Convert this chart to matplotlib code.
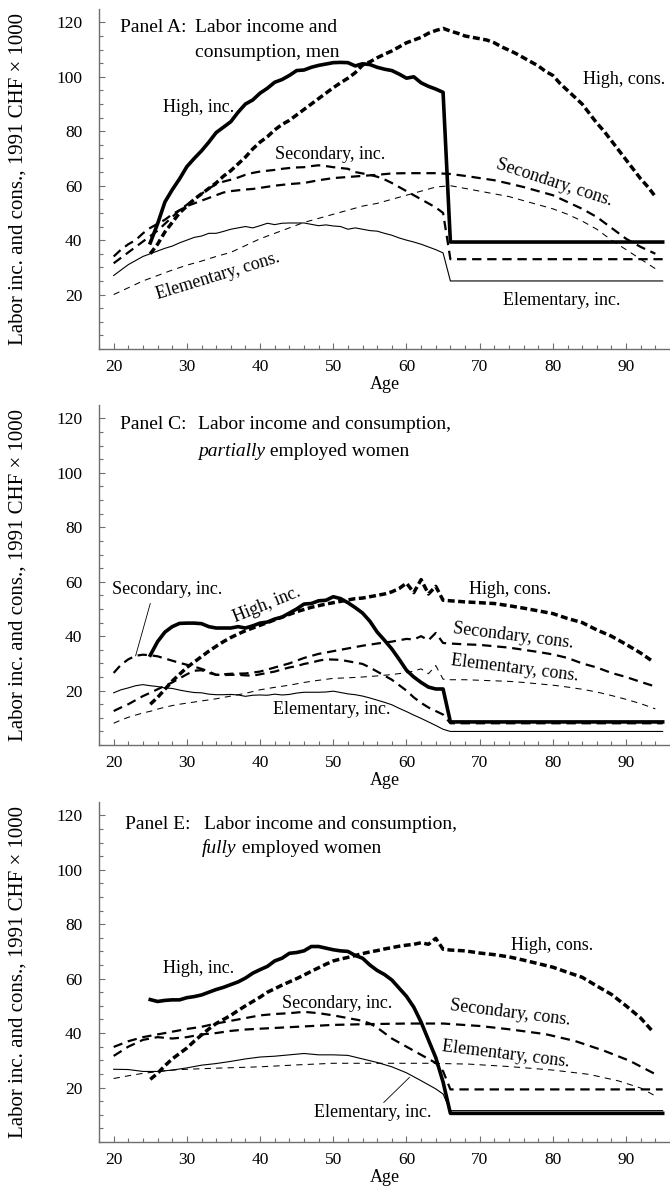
import matplotlib
matplotlib.use('Agg')
import matplotlib.pyplot as plt
from matplotlib.ticker import MultipleLocator

plt.rcParams['font.family'] = ['Liberation Serif', 'DejaVu Serif']

# ---------------- Panel A: men ----------------
a_high_inc_age = [25, 26, 27, 28, 29, 30, 31, 32, 33, 34, 35, 36, 37, 38, 39, 40, 41, 42, 43, 44, 45, 46,
                  47, 48, 49, 50, 51, 52, 53, 54, 55, 56, 57, 58, 59, 60, 61, 62, 63, 64, 65, 66, 95]
a_high_inc = [39, 46, 54, 58.5, 62.5, 67, 70, 72.8, 76, 79.5, 81.5, 83.5, 87, 90, 91.5, 94, 95.8, 98, 99,
              100.5, 102.3, 102.5, 103.5, 104.2, 104.7, 105.2, 105.3, 105.2, 104, 104.8, 104.5, 103.5, 102.8,
              102.3, 101, 99.5, 100, 97.8, 96.5, 95.5, 94.3, 39.3, 39.3]

a_high_cons_age = [25, 26, 27, 28, 29, 30, 31, 32, 33, 34, 35, 36, 37, 38, 39, 40, 41, 42, 43, 44, 45, 46, 47,
                   48, 49, 50, 51, 52, 53, 54, 55, 56, 57, 58, 59, 60, 61, 62, 63, 64, 65, 66, 67, 68, 69, 70,
                   71, 72, 73, 74, 75, 76, 77, 78, 79, 80, 81, 82, 83, 84, 85, 86, 87, 88, 89, 90, 91, 92, 93, 94]
a_high_cons = [35, 38.5, 43, 46.5, 50, 52.5, 55, 57, 59, 61, 63.5, 65.5, 68, 70.5, 73.5, 76, 78, 80.5, 82.5, 84,
               86, 88, 90, 92, 94, 96, 97.8, 99.5, 101.5, 104.3, 105.5, 107, 108.3, 109.5, 111, 112.5, 113.5,
               114.5, 116, 117, 117.8, 116.8, 116, 115, 114.5, 114, 113.5, 112.5, 111, 109.8, 108.5, 107, 105.5,
               104, 102, 100.5, 97.5, 95, 92.5, 90, 86.5, 83, 80, 76.5, 73, 69.5, 66, 62.5, 59.5, 56]

a_sec_inc_age = [20, 21, 22, 23, 24, 25, 26, 27, 28, 29, 30, 31, 32, 33, 34, 35, 36, 37, 38, 39, 40, 41, 42, 43,
                 44, 45, 46, 47, 48, 49, 50, 51, 52, 53, 54, 55, 56, 57, 58, 59, 60, 61, 62, 63, 64, 65, 66, 95]
a_sec_inc = [31.5, 33.5, 35.5, 37.5, 39.5, 41.5, 43.5, 46, 48.5, 51, 53, 55, 57, 59, 60.5, 61.5, 62.2, 63, 64,
             64.7, 65.2, 65.5, 65.8, 66.2, 66.5, 66.7, 66.8, 67.2, 67.5, 67.2, 66.8, 66.5, 66.2, 65, 64.5, 64,
             63.3, 62.3, 61, 59.5, 58, 56.5, 55, 53.5, 52, 50, 33, 33]

a_sec_cons_age = [20, 21, 22, 23, 24, 25, 26, 27, 28, 29, 30, 31, 32, 33, 34, 35, 36, 37, 38, 39, 40, 42, 44,
                  46, 48, 50, 52, 54, 56, 58, 60, 62, 64, 66, 68, 70, 72, 74, 76, 78, 80, 82, 84, 86, 88, 90,
                  92, 94]
a_sec_cons = [34, 36.5, 38.5, 40, 42.5, 44.5, 46, 47.5, 49.5, 51, 52.5, 53.5, 54.5, 55.5, 56.5, 57.5, 58, 58.3,
              58.6, 58.8, 59.2, 60, 60.6, 61, 62, 62.8, 63.2, 63.6, 64, 64.5, 64.6, 64.6, 64.6, 64.3, 63.6, 62.8,
              62, 60.8, 59.5, 58, 56.5, 54, 51.5, 48.5, 44.5, 40.5, 37.5, 35]

a_elem_inc_age = [20, 21, 22, 23, 24, 25, 26, 27, 28, 29, 30, 31, 32, 33, 34, 35, 36, 37, 38, 39, 40, 41, 42,
                  43, 44, 45, 46, 47, 48, 49, 50, 51, 52, 53, 54, 55, 56, 57, 58, 59, 60, 61, 62, 63, 64, 65,
                  66, 95]
a_elem_inc = [27, 29, 31, 32.5, 34, 35, 36, 37, 37.8, 39, 40, 41, 41.5, 42.5, 42.5, 43.2, 44, 44.5, 45, 44.5,
              45.3, 46.2, 45.7, 46.2, 46.3, 46.3, 46.3, 45.8, 45.3, 45.6, 45.2, 45, 44, 44.5, 44, 43.5, 43.3,
              42.5, 41.8, 40.8, 40, 39.3, 38.5, 37.5, 36.5, 35.3, 25, 25]

a_elem_cons_age = [20, 22, 24, 26, 28, 30, 32, 34, 36, 38, 40, 42, 44, 46, 48, 50, 52, 54, 56, 58, 60, 62, 64,
                   66, 68, 70, 72, 74, 76, 78, 80, 82, 84, 86, 88, 90, 92, 94]
a_elem_cons = [20, 22.5, 25, 27, 29, 30.8, 32.3, 34, 35.5, 38, 40.5, 42.5, 44.5, 46.5, 48, 49.5, 51, 52.5, 53.5,
               55, 56.5, 58, 59.5, 60, 59, 58, 57, 56, 54.5, 53, 51.5, 49.5, 47, 44, 40, 36.5, 33, 29.5]

# ---------------- Panel C: partially employed women ----------------
c_high_inc_age = [25, 26, 27, 28, 29, 30, 31, 32, 33, 34, 35, 36, 37, 38, 39, 40, 41, 42, 43, 44, 45, 46, 47,
                  48, 49, 50, 51, 52, 53, 54, 55, 56, 57, 58, 59, 60, 61, 62, 63, 64, 65, 66, 95]
c_high_inc = [33, 38, 41.5, 43.5, 44.7, 44.8, 44.8, 44.6, 43.5, 43, 43, 43, 43.5, 43, 43.8, 44.8, 45.2, 46.3,
              47, 48.5, 50, 51.8, 52, 53, 53.2, 54.5, 53.8, 52.3, 50.5, 48.5, 45.5, 41.5, 38.5, 35.3, 31.5,
              27.5, 25, 23, 21.3, 20.6, 20.6, 8.5, 8.5]

c_high_cons_age = [25, 26, 27, 28, 29, 30, 31, 32, 33, 34, 35, 36, 37, 38, 39, 40, 41, 42, 43, 44, 45, 46, 47,
                   48, 49, 50, 51, 52, 53, 54, 55, 56, 57, 58, 59, 60, 61, 62, 63, 64, 65, 66, 68, 70, 72, 74,
                   76, 78, 80, 82, 84, 86, 88, 90, 92, 93.5]
c_high_cons = [15, 17.5, 20.5, 23.5, 26, 28.5, 30.5, 32.5, 34.5, 36.3, 38, 39.5, 40.8, 42, 43, 44, 45, 46, 47,
               48, 49, 49.8, 50.6, 51.2, 51.8, 52.3, 52.8, 53.3, 53.8, 54, 54.5, 55, 55.5, 56.3, 57.5, 59.5, 56,
               60.8, 55.5, 58.3, 53.2, 53, 52.6, 52.3, 52, 51.2, 50.3, 49.3, 48.3, 46.5, 45, 42.3, 40, 37, 33.8,
               31]

c_sec_inc_age = [20, 21, 22, 23, 24, 25, 26, 27, 28, 29, 30, 31, 32, 33, 34, 35, 36, 37, 38, 39, 40, 41, 42, 43,
                 44, 45, 46, 47, 48, 49, 50, 51, 52, 53, 54, 55, 56, 57, 58, 59, 60, 61, 62, 63, 64, 65, 66, 95]
c_sec_inc = [26.5, 29.5, 31.5, 32.8, 33.2, 33, 32.6, 31.8, 31, 30.2, 29.5, 28.8, 28, 27, 25.8, 25.7, 25.8, 25.8,
             25.6, 25.5, 26, 26.5, 27, 27.8, 28.5, 29, 29.8, 30.3, 31, 31.5, 31.4, 31.3, 30.8, 30.3, 29.8, 28.5,
             27, 25.5, 24, 22, 20, 17.5, 15.5, 13.8, 12.5, 11.2, 8, 8]

c_sec_cons_age = [20, 21, 22, 23, 24, 25, 26, 27, 28, 29, 30, 31, 32, 33, 34, 35, 36, 38, 40, 42, 44, 46, 48,
                  50, 52, 54, 56, 58, 60, 61, 62, 63, 64, 65, 66, 68, 70, 72, 74, 76, 78, 80, 82, 84, 86, 88,
                  90, 92, 94]
c_sec_cons = [12.5, 13.8, 15, 16.5, 18, 19.2, 20.5, 21.8, 23, 24.5, 26, 27.3, 27.5, 26.5, 25.8, 26, 26.2, 26.3,
              27, 28.5, 30, 32, 33.5, 34.5, 35.5, 36.5, 37.3, 38, 39, 38.8, 40, 38.5, 41.2, 37.5, 37.3, 37,
              36.8, 36.3, 35.8, 35, 34.2, 33.3, 32, 30, 28.5, 26.5, 25, 23.2, 21.5]

c_elem_inc_age = [20, 21, 22, 23, 24, 25, 26, 27, 28, 29, 30, 31, 32, 33, 34, 35, 36, 37, 38, 39, 40, 41, 42,
                  43, 44, 45, 46, 47, 48, 49, 50, 51, 52, 53, 54, 55, 56, 57, 58, 59, 60, 61, 62, 63, 64, 65,
                  66, 95]
c_elem_inc = [19.2, 20.3, 21, 21.8, 22.2, 21.8, 21.5, 21, 20.8, 20.2, 19.7, 19.3, 19.2, 18.7, 18.5, 18.5, 18.6,
              18.4, 17.9, 18.3, 18.4, 18.3, 18.7, 18.4, 18.6, 19.1, 19.4, 19.4, 19.4, 19.5, 19.8, 19.3, 18.8,
              18.5, 18, 17.3, 16.5, 15.7, 14.8, 13.5, 12.3, 11, 9.8, 8.5, 7.2, 5.8, 5, 5]

c_elem_cons_age = [20, 21, 22, 23, 24, 25, 26, 27, 28, 29, 30, 32, 34, 36, 38, 40, 42, 44, 46, 48, 50, 52, 54,
                   56, 58, 60, 61, 62, 63, 64, 65, 66, 68, 70, 72, 74, 76, 78, 80, 82, 84, 86, 88, 90, 92, 94]
c_elem_cons = [8, 9.2, 10.2, 11, 11.8, 12.4, 13.2, 13.9, 14.5, 15, 15.4, 16.2, 17, 18, 19, 20.3, 21.2, 22, 23,
               23.8, 24.5, 24.7, 25, 25.4, 25.9, 26.6, 27.2, 28, 26.2, 29.2, 24.2, 24, 24, 23.8, 23.6, 23.4,
               23, 22.5, 22, 21.3, 20.5, 19.5, 18.2, 16.8, 15.2, 13.3]

# ---------------- Panel E: fully employed women ----------------
e_high_inc_age = [25, 26, 27, 28, 29, 30, 31, 32, 33, 34, 35, 36, 37, 38, 39, 40, 41, 42, 43, 44, 45, 46, 47,
                  48, 49, 50, 51, 52, 53, 54, 55, 56, 57, 58, 59, 60, 61, 62, 63, 64, 65, 66, 95]
e_high_inc = [52.3, 51.6, 52, 52.2, 52.2, 53, 53.4, 54, 55, 56, 56.8, 57.8, 58.8, 60.2, 62, 63.3, 64.5, 66.5,
              67.5, 69.3, 69.6, 70.2, 71.8, 71.8, 71.2, 70.6, 70.2, 70, 68.5, 67.5, 65, 63, 61.5, 59.5, 56.5,
              53.5, 49.5, 44, 37.5, 31, 22, 10.5, 10.5]

e_high_cons_age = [25, 26, 27, 28, 29, 30, 31, 32, 33, 34, 35, 36, 37, 38, 39, 40, 41, 42, 43, 44, 45, 46, 47,
                   48, 49, 50, 51, 52, 53, 54, 55, 56, 57, 58, 59, 60, 61, 62, 63, 64, 65, 66, 68, 70, 72, 74,
                   76, 78, 80, 82, 84, 86, 88, 90, 92, 93.5]
e_high_cons = [23, 25.2, 28, 30.5, 32.5, 34.5, 37, 39.3, 41.5, 43.5, 45, 46.5, 48.3, 50, 51.6, 53.2, 55, 56.3,
               57.6, 58.8, 60, 61.3, 62.7, 64, 65.3, 66.5, 67.2, 67.8, 68.5, 69.2, 69.8, 70.3, 70.9, 71.4, 71.9,
               72.3, 72.6, 73.2, 72.6, 74.8, 70.8, 70.5, 70.2, 69.4, 68.8, 68, 66.8, 65.5, 64.2, 62.3, 60.5,
               57.3, 54.2, 50, 45.5, 41]

e_sec_inc_age = [20, 22, 24, 26, 28, 30, 32, 34, 36, 38, 40, 42, 44, 46, 48, 50, 52, 54, 55, 56, 58, 60, 62,
                 64, 65, 66, 95]
e_sec_inc = [34.9, 37, 38.5, 39.5, 40.5, 41.5, 42.3, 43.5, 44.5, 45.5, 46.5, 47, 47.3, 47.8, 47.3, 46.5, 45.5,
             44.5, 43.5, 42, 38, 35, 32, 29, 26, 19.3, 19.3]

e_sec_cons_age = [20, 22, 24, 26, 28, 30, 32, 34, 36, 38, 40, 45, 50, 55, 60, 65, 70, 74, 79, 83, 87, 90.5, 94]
e_sec_cons = [31.6, 35, 37.5, 38.5, 38, 38.5, 39.5, 40, 40.8, 41.3, 41.6, 42.3, 43, 43.3, 43.5, 43.5, 42.6,
              41.4, 39.6, 37.1, 33.5, 29.8, 24.9]

e_elem_inc_age = [20, 22, 24, 26, 28, 30, 32, 34, 36, 38, 40, 42, 44, 46, 48, 50, 52, 54, 56, 58, 60, 62, 64,
                  65, 66, 95]
e_elem_inc = [26.7, 26.6, 25.9, 25.9, 26.4, 27.2, 28.2, 28.8, 29.6, 30.5, 31.2, 31.5, 32, 32.5, 32, 32, 31.8,
              30.5, 29.2, 27.6, 25.4, 22.5, 19.5, 17.6, 11.5, 11.5]

e_elem_cons_age = [20, 22, 24, 26, 28, 30, 34, 40, 45, 50, 57, 63, 68.5, 74, 80, 85, 89, 92, 94]
e_elem_cons = [23.3, 24.3, 25.2, 25.8, 26.4, 26.7, 27.1, 27.6, 28.3, 28.9, 28.9, 28.9, 28.6, 27.7, 26.4, 24.8,
               22.4, 19.8, 16.9]

# line styles: (solid thick, dashed thick, dashed medium, thin solid, thin dashed)
st_high_inc = dict(color='black', lw=2.6, ls='-', solid_joinstyle='round')
st_high_cons = dict(color='black', lw=2.5, ls=(0, (2.0, 1.0)))
st_sec = dict(color='black', lw=1.6, ls=(0, (4.2, 2.6)))
st_elem_inc = dict(color='black', lw=0.8, ls='-')
st_elem_cons = dict(color='black', lw=0.75, ls=(0, (6, 5)))

fig = plt.figure(figsize=(6.7, 11.94), dpi=100)
gray = '#6e6e6e'
ann = 13

panels = [
    (0.7077, [(a_high_inc_age, a_high_inc, st_high_inc), (a_high_cons_age, a_high_cons, st_high_cons),
              (a_sec_inc_age, a_sec_inc, st_sec), (a_sec_cons_age, a_sec_cons, st_sec),
              (a_elem_inc_age, a_elem_inc, st_elem_inc), (a_elem_cons_age, a_elem_cons, st_elem_cons)]),
    (0.3760, [(c_high_inc_age, c_high_inc, st_high_inc), (c_high_cons_age, c_high_cons, st_high_cons),
              (c_sec_inc_age, c_sec_inc, st_sec), (c_sec_cons_age, c_sec_cons, st_sec),
              (c_elem_inc_age, c_elem_inc, st_elem_inc), (c_elem_cons_age, c_elem_cons, st_elem_cons)]),
    (0.0436, [(e_high_inc_age, e_high_inc, st_high_inc), (e_high_cons_age, e_high_cons, st_high_cons),
              (e_sec_inc_age, e_sec_inc, st_sec), (e_sec_cons_age, e_sec_cons, st_sec),
              (e_elem_inc_age, e_elem_inc, st_elem_inc), (e_elem_cons_age, e_elem_cons, st_elem_cons)]),
]

axes = []
for bottom, series in panels:
    ax = fig.add_axes([0.1478, bottom, 0.8522, 0.2845])
    for x, y, st in series:
        ax.plot(x, y, **st)
    ax.set_xlim(18, 96)
    ax.set_ylim(0, 124.8)
    ax.set_xticks([20, 30, 40, 50, 60, 70, 80, 90])
    ax.set_yticks([20, 40, 60, 80, 100, 120])
    ax.xaxis.set_minor_locator(MultipleLocator(2))
    ax.yaxis.set_minor_locator(MultipleLocator(5))
    ax.tick_params(which='both', direction='in', colors=gray, labelcolor='black', width=0.8)
    ax.tick_params(which='major', length=4, labelsize=12.5)
    ax.tick_params(which='minor', length=3)
    ax.tick_params(axis='y', pad=12)
    ax.tick_params(axis='x', pad=7)
    for s in ['top', 'right']:
        ax.spines[s].set_visible(False)
    for s in ['left', 'bottom']:
        ax.spines[s].set_color(gray)
        ax.spines[s].set_linewidth(1.0)
    ax.set_xlabel('Age', fontsize=13, labelpad=1)
    ax.set_ylabel('Labor inc. and cons., 1991 CHF \u00d7 1000', fontsize=15)
    ax.yaxis.set_label_coords(-0.125, 0.5)
    axes.append(ax)

axA, axC, axE = axes

# Panel A labels
axA.text(20.9, 118.2, 'Panel A:', fontsize=14, va='center')
axA.text(31.1, 118.2, 'Labor income and', fontsize=14, va='center')
axA.text(31.1, 109.0, 'consumption, men', fontsize=14, va='center')
axA.text(26.7, 88.6, 'High, inc.', fontsize=ann, va='center')
axA.text(42.0, 71.4, 'Secondary, inc.', fontsize=ann, va='center')
axA.text(34.3, 26.6, 'Elementary, cons.', fontsize=ann, va='center', ha='center', rotation=17,
         rotation_mode='anchor')
axA.text(84.1, 99.0, 'High, cons.', fontsize=ann, va='center')
axA.text(80.2, 61.0, 'Secondary, cons.', fontsize=ann, va='center', ha='center', rotation=-18,
         rotation_mode='anchor')
axA.text(73.2, 17.9, 'Elementary, inc.', fontsize=ann, va='center')

# Panel C labels
axC.text(20.9, 117.6, 'Panel C:', fontsize=14, va='center')
axC.text(31.5, 117.6, 'Labor income and consumption,', fontsize=14, va='center')
t = axC.text(31.5, 107.8, 'partially', fontsize=14, va='center', style='italic')
axC.annotate(' employed women', xy=(1, 0), xycoords=t, fontsize=14, va='bottom', ha='left')
axC.text(19.8, 57.0, 'Secondary, inc.', fontsize=ann, va='center')
axC.plot([25.0, 23.0], [52.0, 32.8], color='black', lw=0.6)
axC.text(40.9, 51.5, 'High, inc.', fontsize=ann, va='center', ha='center', rotation=22,
         rotation_mode='anchor')
axC.text(68.5, 57.0, 'High, cons.', fontsize=ann, va='center')
axC.text(74.6, 40.2, 'Secondary, cons.', fontsize=ann, va='center', ha='center', rotation=-7,
         rotation_mode='anchor')
axC.text(74.8, 28.0, 'Elementary, cons.', fontsize=ann, va='center', ha='center', rotation=-7,
         rotation_mode='anchor')
axC.text(41.8, 13.0, 'Elementary, inc.', fontsize=ann, va='center')

# Panel E labels
axE.text(21.5, 116.7, 'Panel E:', fontsize=14, va='center')
axE.text(32.4, 116.7, 'Labor income and consumption,', fontsize=14, va='center')
t = axE.text(32.1, 108.0, 'fully', fontsize=14, va='center', style='italic')
axE.annotate(' employed women', xy=(1, 0), xycoords=t, fontsize=14, va='bottom', ha='left')
axE.text(26.7, 63.7, 'High, inc.', fontsize=ann, va='center')
axE.text(43.0, 50.8, 'Secondary, inc.', fontsize=ann, va='center')
axE.text(74.3, 72.3, 'High, cons.', fontsize=ann, va='center')
axE.text(74.2, 47.5, 'Secondary, cons.', fontsize=ann, va='center', ha='center', rotation=-7,
         rotation_mode='anchor')
axE.text(73.6, 32.2, 'Elementary, cons.', fontsize=ann, va='center', ha='center', rotation=-7,
         rotation_mode='anchor')
axE.text(47.3, 10.8, 'Elementary, inc.', fontsize=ann, va='center')
axE.plot([56.9, 60.4], [14.5, 23.7], color='black', lw=0.6)

fig.savefig('out.png', dpi=100)
